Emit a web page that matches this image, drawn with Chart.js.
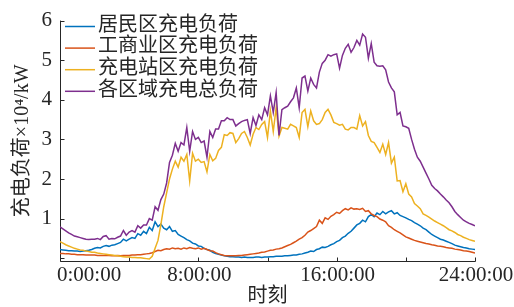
<!DOCTYPE html>
<html>
<head>
<meta charset="utf-8">
<script src="https://cdn.jsdelivr.net/npm/chart.js@4/dist/chart.umd.min.js"></script>
<style>
  html, body { margin: 0; padding: 0; background: #fff; }
</style>
</head>
<body>
<canvas id="chart" width="514" height="307"></canvas>
<script>
// one value every 10 minutes, 0:00 .. 24:00 (145 points), unit 10^4 kW
const seriesNames = ['居民区充电负荷', '工商业区充电负荷', '充电站区充电负荷', '各区域充电总负荷'];
const seriesColors = ['#0072BD', '#D95319', '#EDB120', '#7E2F8E'];

const residential = [
  0.22, 0.21, 0.20, 0.19, 0.19, 0.18,
  0.18, 0.17, 0.18, 0.19, 0.20, 0.22,
  0.25, 0.27, 0.26, 0.30, 0.32, 0.30,
  0.33, 0.34, 0.37, 0.40, 0.48, 0.44,
  0.48, 0.52, 0.50, 0.62, 0.58, 0.68,
  0.62, 0.78, 0.70, 0.92, 0.80, 0.86,
  0.76, 0.72, 0.80, 0.68, 0.70, 0.60,
  0.56, 0.52, 0.47, 0.44, 0.38, 0.36,
  0.31, 0.30, 0.25, 0.22, 0.20, 0.15,
  0.12, 0.10, 0.08, 0.06, 0.05, 0.04,
  0.04, 0.03, 0.03, 0.02, 0.03, 0.02,
  0.02, 0.02, 0.03, 0.03, 0.02, 0.03,
  0.03, 0.04, 0.04, 0.05, 0.05, 0.05,
  0.06, 0.06, 0.07, 0.08, 0.08, 0.10,
  0.11, 0.13, 0.15, 0.18, 0.17, 0.22,
  0.24, 0.28, 0.27, 0.30, 0.34, 0.37,
  0.42, 0.45, 0.52, 0.56, 0.63, 0.68,
  0.76, 0.84, 0.88, 0.96, 0.92, 1.05,
  1.10, 1.05, 1.14, 1.10, 1.18, 1.12,
  1.17, 1.20, 1.12, 1.15, 1.08, 1.05,
  1.02, 0.98, 0.95, 0.90, 0.86, 0.82,
  0.76, 0.72, 0.66, 0.60, 0.56, 0.52,
  0.48, 0.46, 0.43, 0.40, 0.37, 0.33,
  0.31, 0.29, 0.27, 0.26, 0.24, 0.23,
  0.22
];

const commercial = [
  0.12, 0.12, 0.11, 0.11, 0.10, 0.10,
  0.09, 0.09, 0.09, 0.08, 0.08, 0.08,
  0.08, 0.07, 0.07, 0.07, 0.07, 0.07,
  0.06, 0.06, 0.07, 0.06, 0.07, 0.07,
  0.07, 0.08, 0.08, 0.09, 0.09, 0.10,
  0.11, 0.12, 0.14, 0.17, 0.20, 0.19,
  0.22, 0.24, 0.23, 0.26, 0.24, 0.25,
  0.23, 0.26, 0.24, 0.27, 0.25, 0.24,
  0.26, 0.23, 0.25, 0.22, 0.19, 0.18,
  0.14, 0.11, 0.09, 0.07, 0.06, 0.06,
  0.06, 0.06, 0.07, 0.07, 0.08, 0.09,
  0.10, 0.11, 0.12, 0.13, 0.15, 0.16,
  0.18, 0.20, 0.21, 0.23, 0.24, 0.26,
  0.29, 0.32, 0.35, 0.39, 0.43, 0.48,
  0.52, 0.58, 0.66, 0.70, 0.75, 0.80,
  0.96, 0.88, 1.02, 0.98, 1.06, 1.10,
  1.16, 1.13, 1.20, 1.25, 1.22, 1.27,
  1.24, 1.25, 1.23, 1.26, 1.18, 1.20,
  1.12, 1.08, 1.05, 0.99, 0.96, 0.92,
  0.82, 0.78, 0.72, 0.68, 0.64, 0.59,
  0.54, 0.51, 0.48, 0.45, 0.43, 0.41,
  0.39, 0.37, 0.36, 0.34, 0.33, 0.31,
  0.30, 0.29, 0.27, 0.26, 0.25, 0.23,
  0.22, 0.21, 0.19, 0.18, 0.17, 0.15,
  0.13
];

const station = [
  0.42, 0.38, 0.34, 0.31, 0.28, 0.25,
  0.23, 0.21, 0.20, 0.18, 0.17, 0.15,
  0.15, 0.13, 0.12, 0.11, 0.10, 0.09,
  0.08, 0.07, 0.06, 0.05, 0.04, 0.03,
  0.03, 0.02, 0.02, 0.01, 0.01, 0.00,
  -0.01, -0.02, 0.05, 0.25, 0.45, 0.85,
  1.30, 1.65, 2.00, 2.25, 2.45, 2.30,
  2.55, 2.45, 2.62, 1.95, 2.65, 2.45,
  2.50, 2.42, 2.44, 2.18, 2.62, 2.46,
  2.52, 2.72, 2.80, 3.12, 3.10, 3.17,
  3.15, 2.92, 3.02, 3.15, 3.20, 3.05,
  2.86, 3.13, 3.30, 3.25, 3.38, 3.45,
  3.05, 3.72, 3.20, 3.80, 3.08, 3.30,
  3.28, 3.26, 3.38, 3.34, 3.30, 3.05,
  3.68, 3.76, 3.32, 3.72, 3.47, 3.38,
  3.40, 3.50, 3.68, 3.76, 3.62, 3.43,
  3.40, 3.36, 3.38, 3.26, 3.24, 3.30,
  3.30, 3.26, 3.60, 3.34, 3.45, 3.10,
  2.95, 2.92, 2.80, 2.67, 2.88, 2.62,
  2.92, 2.40, 2.55, 1.95, 1.96, 1.68,
  1.88, 1.62, 1.55, 1.38, 1.32, 1.25,
  1.12, 1.08, 1.04, 0.99, 0.94, 0.90,
  0.86, 0.82, 0.77, 0.72, 0.69, 0.65,
  0.60, 0.57, 0.53, 0.50, 0.47, 0.45,
  0.43
];

const total = [
  0.79, 0.74, 0.69, 0.64, 0.60, 0.56,
  0.54, 0.52, 0.50, 0.48, 0.47, 0.48,
  0.48, 0.50, 0.47, 0.55, 0.57, 0.48,
  0.50, 0.49, 0.53, 0.56, 0.70, 0.58,
  0.66, 0.70, 0.66, 0.82, 0.76, 0.84,
  0.84, 1.00, 0.96, 1.30, 1.21, 1.48,
  1.62, 1.90, 2.42, 2.60, 2.90, 2.70,
  2.92, 2.86, 3.30, 2.70, 3.20, 3.00,
  3.05, 2.92, 2.96, 2.55, 3.20, 3.05,
  3.26, 3.26, 3.47, 3.47, 3.55, 3.50,
  3.50, 3.34, 3.40, 3.45, 3.48, 3.50,
  3.15, 3.55, 3.35, 3.62, 3.50, 3.80,
  3.62, 4.10, 3.68, 4.18, 3.10, 3.75,
  3.80, 3.84, 3.95, 4.05, 4.30, 3.80,
  4.55, 4.60, 4.22, 4.55, 4.39, 4.30,
  4.70, 4.92, 5.00, 5.14, 5.10, 5.14,
  5.16, 4.80, 5.12, 5.30, 5.40, 5.20,
  5.32, 5.50, 5.38, 5.66, 5.58, 5.05,
  5.42, 4.95, 4.86, 4.85, 4.86, 4.76,
  4.45, 4.30, 4.20, 3.62, 3.68, 3.34,
  3.32, 3.28, 3.00, 2.75, 2.55, 2.45,
  2.30, 2.15, 2.00, 1.84, 1.76, 1.70,
  1.62, 1.55, 1.47, 1.40, 1.30, 1.18,
  1.10, 1.03, 0.96, 0.92, 0.88, 0.85,
  0.82
];

const xTickHours = [0, 4, 8, 12, 16, 20, 24];
const xLabelHours = [0, 8, 16, 24];
const xLabels = ['0:00:00', '8:00:00', '16:00:00', '24:00:00'];
const yTicks = [0, 1, 2, 3, 4, 5, 6];

const hours = residential.map((_, i) => i / 6);
const toPoints = arr => arr.map((v, i) => ({ x: hours[i], y: v }));

const serif = "'Liberation Serif', 'Times New Roman', 'Noto Sans CJK SC', serif";
const ink = '#262626';

// axes lines with inward ticks, x labels, and the legend inside the plot
const decor = {
  id: 'decor',
  beforeDatasetsDraw(chart) {
    const { ctx, chartArea: a, scales: { x, y } } = chart;
    ctx.save();
    ctx.strokeStyle = ink;
    ctx.lineWidth = 1;
    ctx.beginPath();
    const l = a.left + 0.5, b = a.bottom + 0.5;
    ctx.moveTo(l, a.top);
    ctx.lineTo(l, b);
    ctx.lineTo(a.right + 0.5, b);
    yTicks.forEach(v => {
      const py = Math.round(y.getPixelForValue(v)) + 0.5;
      ctx.moveTo(l, py);
      ctx.lineTo(l + 4, py);
    });
    xTickHours.forEach(h => {
      const px = Math.round(x.getPixelForValue(h)) + 0.5;
      ctx.moveTo(px, b);
      ctx.lineTo(px, b - 4);
    });
    ctx.stroke();
    ctx.restore();
  },
  afterDraw(chart) {
    const { ctx, chartArea: a, scales: { x } } = chart;
    ctx.save();
    ctx.fillStyle = ink;
    ctx.font = '21px ' + serif;
    ctx.textBaseline = 'middle';
    xLabelHours.forEach((h, i) => {
      const px = x.getPixelForValue(h);
      if (i === 0) {
        ctx.textAlign = 'left';
        ctx.fillText(xLabels[i], px - 3, a.bottom + 14);
      } else {
        ctx.textAlign = 'center';
        ctx.fillText(xLabels[i], px + 1, a.bottom + 14);
      }
    });
    // legend
    ctx.font = '20px ' + serif;
    ctx.textAlign = 'left';
    chart.data.datasets.forEach((ds, i) => {
      const ly = 26.5 + i * 21.6;
      ctx.strokeStyle = ds.borderColor;
      ctx.lineWidth = 1.5;
      ctx.beginPath();
      ctx.moveTo(a.left + 5, ly);
      ctx.lineTo(a.left + 35, ly);
      ctx.stroke();
      ctx.fillStyle = ink;
      ctx.fillText(ds.label, a.left + 38, ly - 1);
    });
    ctx.restore();
  }
};

const allSeries = [residential, commercial, station, total];

new Chart(document.getElementById('chart').getContext('2d'), {
  type: 'line',
  data: {
    datasets: allSeries.map((s, i) => ({
      label: seriesNames[i],
      data: toPoints(s),
      borderColor: seriesColors[i],
      backgroundColor: seriesColors[i],
      borderWidth: 1.5,
      pointRadius: 0,
      tension: 0,
      fill: false,
      order: 4 - i
    }))
  },
  options: {
    responsive: false,
    animation: false,
    devicePixelRatio: 1,
    layout: { padding: { top: 19, right: 39, left: 0, bottom: 0 } },
    plugins: { legend: { display: false }, tooltip: { enabled: false } },
    scales: {
      x: {
        type: 'linear',
        min: 0,
        max: 24,
        grid: { display: false },
        border: { display: false },
        ticks: { display: false },
        title: {
          display: true,
          text: '时刻',
          color: ink,
          font: { family: serif, size: 20, lineHeight: 1 },
          padding: 0
        },
        afterFit: s => { s.height = 46; }
      },
      y: {
        min: -0.07,
        max: 6,
        grid: { display: false, drawTicks: false },
        border: { display: false },
        ticks: {
          stepSize: 1,
          color: ink,
          padding: 8,
          font: { family: serif, size: 21 },
          callback: v => (yTicks.includes(v) ? String(v) : '')
        },
        title: {
          display: true,
          text: '充电负荷×10⁴/kW',
          color: ink,
          font: { family: serif, size: 20, lineHeight: 1.2 },
          padding: { top: 11, bottom: 0 }
        },
        afterFit: s => { s.width = 60; }
      }
    }
  },
  plugins: [decor]
});
</script>
</body>
</html>
